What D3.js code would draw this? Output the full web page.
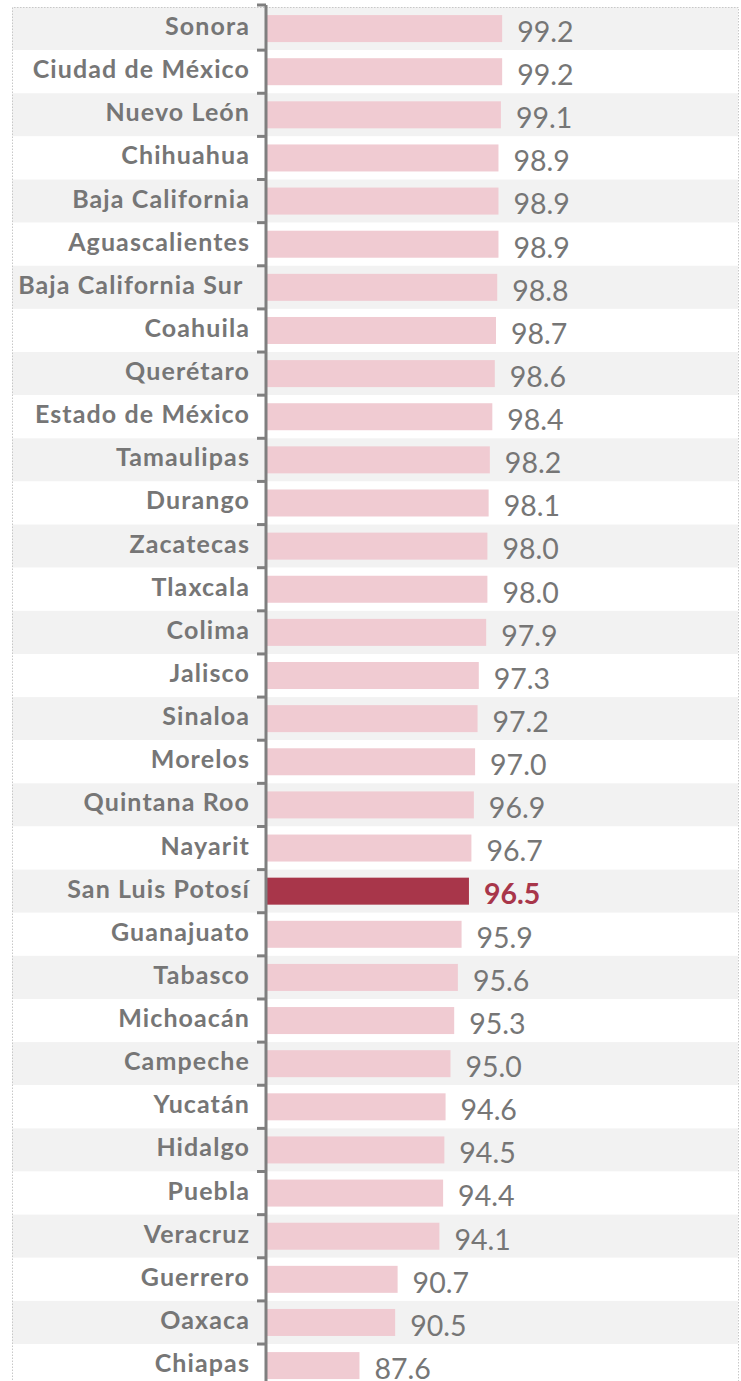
<!DOCTYPE html>
<html>
<head>
<meta charset="utf-8">
<script src="https://cdn.jsdelivr.net/npm/d3@7"></script>
<style>
  body { margin: 0; background: #fff; }
  svg { display: block; }
</style>
</head>
<body>
<div id="chart"></div>
<script>
const states = [
  'Sonora', 'Ciudad de México', 'Nuevo León', 'Chihuahua', 'Baja California',
  'Aguascalientes', 'Baja California Sur ', 'Coahuila', 'Querétaro',
  'Estado de México', 'Tamaulipas', 'Durango', 'Zacatecas', 'Tlaxcala',
  'Colima', 'Jalisco', 'Sinaloa', 'Morelos', 'Quintana Roo', 'Nayarit',
  'San Luis Potosí', 'Guanajuato', 'Tabasco', 'Michoacán', 'Campeche',
  'Yucatán', 'Hidalgo', 'Puebla', 'Veracruz', 'Guerrero', 'Oaxaca', 'Chiapas'
];
const values = [
  99.2, 99.2, 99.1, 98.9, 98.9, 98.9, 98.8, 98.7, 98.6, 98.4, 98.2, 98.1,
  98.0, 98.0, 97.9, 97.3, 97.2, 97.0, 96.9, 96.7, 96.5, 95.9, 95.6, 95.3,
  95.0, 94.6, 94.5, 94.4, 94.1, 90.7, 90.5, 87.6
];
const highlight = 'San Luis Potosí';

const width = 741, height = 1381;
const axisX = 266;
const topY = 7;
const step = 43.13;

const data = states.map((s, i) => ({state: s, value: values[i]}));

const svg = d3.select('#chart').append('svg')
  .attr('width', width)
  .attr('height', height);

const y = d3.scaleBand()
  .domain(states)
  .range([topY, topY + step * states.length])
  .padding(0);

const x = d3.scaleLinear()
  .domain([80, 100])
  .range([axisX, axisX + 246]);

// alternating row bands
svg.append('g').selectAll('rect')
  .data(data)
  .join('rect')
  .attr('x', 12)
  .attr('y', d => y(d.state))
  .attr('width', 726)
  .attr('height', y.bandwidth())
  .attr('fill', (d, i) => i % 2 === 0 ? '#f2f2f2' : '#ffffff');

// dotted frame
svg.append('path')
  .attr('d', `M12.5,${height + 5} V${topY + 0.5} H738.5 V${height + 5}`)
  .attr('fill', 'none')
  .attr('stroke', '#c8c8c8')
  .attr('stroke-width', 1)
  .attr('stroke-dasharray', '1.5,1.5');

const barH = 27;

svg.append('g').selectAll('rect')
  .data(data)
  .join('rect')
  .attr('x', x(80))
  .attr('y', d => y(d.state) + (y.bandwidth() - barH) / 2)
  .attr('width', d => x(d.value) - x(80))
  .attr('height', barH)
  .attr('fill', d => d.state === highlight ? '#a8364a' : '#f0cbd2');

// category labels
svg.append('g').selectAll('text')
  .data(data)
  .join('text')
  .attr('x', 250)
  .attr('y', d => y(d.state) + y.bandwidth() / 2 + 6.5)
  .attr('text-anchor', 'end')
  .attr('font-family', 'Lato, "Open Sans", sans-serif')
  .attr('font-weight', 'bold')
  .attr('font-size', 25)
  .attr('letter-spacing', 1.1)
  .attr('fill', '#767676')
  .style('white-space', 'pre')
  .text(d => d.state);

// value labels
svg.append('g').selectAll('text')
  .data(data)
  .join('text')
  .attr('x', d => x(d.value) + 15)
  .attr('y', d => y(d.state) + y.bandwidth() / 2 + 13.3)
  .attr('font-family', 'Lato, "Open Sans", sans-serif')
  .attr('font-weight', d => d.state === highlight ? 'bold' : 'normal')
  .attr('font-size', 28.5)
  .attr('fill', d => d.state === highlight ? '#a8364a' : '#767676')
  .text(d => d.value.toFixed(1));

// axis line with ticks at band boundaries
const axis = svg.append('g');
axis.append('line')
  .attr('x1', axisX)
  .attr('x2', axisX)
  .attr('y1', topY - 2)
  .attr('y2', height + 5)
  .attr('stroke', '#7f7f7f')
  .attr('stroke-width', 3);

const bounds = d3.range(states.length + 1).map(i => topY + i * y.step());
axis.selectAll('.tick')
  .data(bounds)
  .join('line')
  .attr('class', 'tick')
  .attr('x1', axisX - 9)
  .attr('x2', axisX)
  .attr('y1', (d, i) => i === 0 ? d - 2 : d)
  .attr('y2', (d, i) => i === 0 ? d - 2 : d)
  .attr('stroke', '#7f7f7f')
  .attr('stroke-width', 3);
</script>
</body>
</html>
